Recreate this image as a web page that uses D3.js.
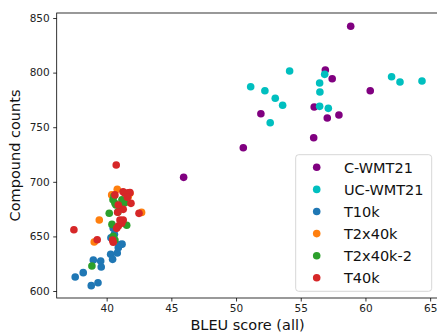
<!DOCTYPE html>
<html>
<head>
<meta charset="utf-8">
<script src="https://cdn.jsdelivr.net/npm/d3@7"></script>
<style>
  body { margin: 0; background: #fff; }
  svg { display: block; font-family: "DejaVu Sans", sans-serif; }
</style>
</head>
<body>
<svg id="chart" width="437" height="332"></svg>
<script>
// [bleu, compound count] pairs per system
const cWmt21 = [
  [58.86, 842.4], [56.9, 802.4], [57.43, 794.4], [60.37, 783.4], [56.04, 768.5],
  [51.92, 762.4], [57.05, 758.4], [57.95, 761.2], [56.0, 740.4], [50.56, 731.2],
  [45.95, 704.1]
];
const ucWmt21 = [
  [54.14, 801.5], [56.85, 798.4], [56.46, 790.5], [51.13, 787.1], [62.02, 796.2],
  [62.67, 791.4], [64.37, 792.3], [52.23, 783.4], [56.48, 782.2], [53.03, 776.5],
  [53.6, 770.1], [56.46, 769.1], [57.13, 767.3], [52.64, 754.1]
];
const t10k = [
  [37.57, 612.8], [38.19, 616.8], [38.81, 604.9], [39.33, 607.6], [38.97, 628.4],
  [39.54, 627.5], [39.58, 622.0], [40.31, 633.6], [40.46, 629.0], [40.82, 634.8],
  [40.9, 639.7], [41.19, 642.9], [41.05, 642.5], [40.51, 657.4], [40.33, 648.8],
  [40.6, 652.0]
];
const t2x40k = [
  [40.82, 693.1], [39.43, 665.0], [39.04, 644.9], [42.7, 672.0], [41.8, 689.5],
  [40.51, 648.0], [40.39, 688.0], [41.67, 686.4]
];
const t2x40k2 = [
  [38.86, 622.9], [40.2, 671.2], [40.41, 661.0], [41.55, 660.2], [40.51, 650.0],
  [40.64, 646.7], [40.49, 683.5], [40.72, 678.8], [41.03, 676.0], [40.87, 672.3],
  [41.18, 683.5], [41.41, 680.8], [40.57, 687.0], [40.64, 680.3], [41.29, 681.8]
];
const t40k = [
  [40.74, 715.4], [37.47, 656.1], [39.27, 647.0], [42.5, 671.1], [41.88, 680.3],
  [41.28, 674.8], [40.9, 678.8], [40.85, 672.1], [40.64, 688.0], [41.27, 690.9],
  [41.67, 690.0], [41.41, 689.5], [41.8, 690.1], [41.28, 665.0], [41.16, 662.0],
  [40.9, 659.5], [40.77, 657.4], [40.46, 646.7], [40.51, 644.6], [41.6, 685.8],
  [41.03, 665.0]
];

const seriesNames = ["C-WMT21", "UC-WMT21", "T10k", "T2x40k", "T2x40k-2", "T40k"];
const seriesData = [cWmt21, ucWmt21, t10k, t2x40k, t2x40k2, t40k];
const seriesColors = ["#800080", "#00bfbf", "#1f77b4", "#ff7f0e", "#2ca02c", "#d62728"];
const xTicks = [40, 45, 50, 55, 60, 65];
const yTicks = [600, 650, 700, 750, 800, 850];

const svg = d3.select("#chart");
const margin = { left: 56.7, top: 13, right: 438.3, bottom: 298 };

const x = d3.scaleLinear().domain([36.14, 65.63]).range([margin.left, margin.right]);
const y = d3.scaleLinear().domain([593.6, 854.6]).range([margin.bottom, margin.top]);

const xAxis = svg.append("g")
  .attr("transform", `translate(0,${margin.bottom})`)
  .call(d3.axisBottom(x).tickValues(xTicks).tickSize(3.5).tickPadding(3.5).tickSizeOuter(0));
const yAxis = svg.append("g")
  .attr("transform", `translate(${margin.left},0)`)
  .call(d3.axisLeft(y).tickValues(yTicks).tickSize(3.5).tickPadding(3.5).tickSizeOuter(0));

[xAxis, yAxis].forEach(a => {
  a.select(".domain").remove();
  a.selectAll(".tick line").attr("stroke", "#000").attr("stroke-width", 0.8);
  a.selectAll(".tick text")
    .attr("fill", "#222")
    .style("font-size", "10.5px")
    .style("font-family", "DejaVu Sans");
});

// spines
svg.append("rect")
  .attr("x", margin.left).attr("y", margin.top)
  .attr("width", margin.right - margin.left)
  .attr("height", margin.bottom - margin.top)
  .attr("fill", "none").attr("stroke", "#000").attr("stroke-width", 0.8);

const plot = svg.append("g");
seriesData.forEach((pts, i) => {
  plot.selectAll(null)
    .data(pts)
    .enter().append("circle")
    .attr("cx", d => x(d[0]))
    .attr("cy", d => y(d[1]))
    .attr("r", 3.8)
    .attr("fill", seriesColors[i]);
});

svg.append("text")
  .attr("x", (margin.left + margin.right) / 2)
  .attr("y", 330)
  .attr("text-anchor", "middle")
  .style("font-size", "14.5px")
  .attr("fill", "#111")
  .text("BLEU score (all)");

svg.append("text")
  .attr("transform", `translate(20,${(margin.top + margin.bottom) / 2}) rotate(-90)`)
  .attr("text-anchor", "middle")
  .style("font-size", "14.5px")
  .attr("fill", "#111")
  .text("Compound counts");

// legend
const legend = svg.append("g").attr("transform", "translate(295.7,154.7)");
legend.append("rect")
  .attr("width", 136).attr("height", 136.6)
  .attr("rx", 3)
  .attr("fill", "#fff").attr("fill-opacity", 0.8)
  .attr("stroke", "#ccc").attr("stroke-width", 0.8);

const rows = legend.selectAll("g.row")
  .data(seriesNames)
  .enter().append("g")
  .attr("class", "row")
  .attr("transform", (d, i) => `translate(0,${12.6 + i * 22.1})`);

rows.append("circle")
  .attr("cx", 21).attr("cy", 0).attr("r", 3.8)
  .attr("fill", (d, i) => seriesColors[i]);

rows.append("text")
  .attr("x", 48.3).attr("y", 0).attr("dy", "0.36em")
  .style("font-size", "14.5px")
  .attr("fill", "#111")
  .text(d => d);
</script>
</body>
</html>
